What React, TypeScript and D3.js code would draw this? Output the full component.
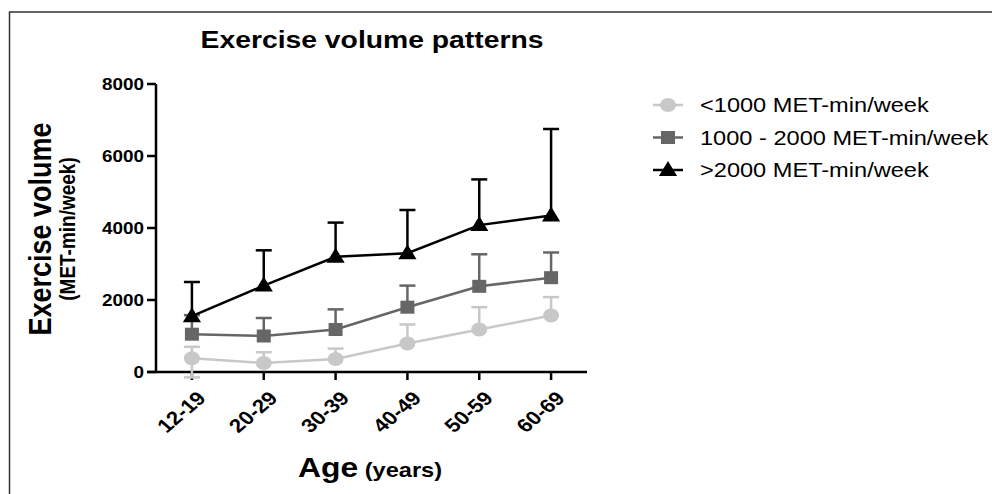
import React from 'react'
import * as d3 from 'd3'

// age groups on the x axis
const categories = ['12-19', '20-29', '30-39', '40-49', '50-59', '60-69']
const yTicks = [0, 2000, 4000, 6000, 8000]

// means and the top of the error bar (mean + SD) for each pattern
const lowMean = [380, 250, 360, 790, 1180, 1570]
const lowTop = [700, 550, 650, 1320, 1800, 2080]
const lowBottom = [-150, null, null, null, null, null]
const midMean = [1050, 1000, 1180, 1800, 2380, 2620]
const midTop = [1580, 1500, 1740, 2400, 3270, 3320]
const highMean = [1550, 2400, 3200, 3300, 4080, 4350]
const highTop = [2500, 3380, 4150, 4500, 5350, 6750]

const seriesNames = ['<1000 MET-min/week', '1000 - 2000 MET-min/week', '>2000 MET-min/week']

const font = 'Liberation Sans, Arial, Helvetica, sans-serif'
// the original figure is a bit stretched sideways, so text gets the same stretch
const SX = 1.18

const x = d3.scalePoint<string>().domain(categories).range([156, 587]).padding(0.5)
const y = d3.scaleLinear().domain([0, 8000]).range([372, 84])

const series = [
  { name: seriesNames[0], mean: lowMean, top: lowTop, bottom: lowBottom, color: '#c8c8c8', shape: 'circle' },
  { name: seriesNames[1], mean: midMean, top: midTop, bottom: null, color: '#666666', shape: 'square' },
  { name: seriesNames[2], mean: highMean, top: highTop, bottom: null, color: '#000000', shape: 'triangle' }
]

function Marker (props: { shape: string, cx: number, cy: number, color: string }) {
  const { shape, cx, cy, color } = props
  if (shape === 'circle') return <ellipse cx={cx} cy={cy} rx={8} ry={7} fill={color} />
  if (shape === 'square') return <rect x={cx - 7} y={cy - 6.5} width={14} height={13} fill={color} />
  const tri = d3.symbol().type(d3.symbolTriangle).size(130)()
  return <path d={tri || ''} transform={'translate(' + cx + ',' + (cy + 1) + ') scale(1.05,1)'} fill={color} />
}

// text placed at (tx, ty), stretched sideways, then optionally rotated
function T (props: { tx: number, ty: number, rot?: number, size: number, bold?: boolean, anchor?: string, dy?: string, children: any }) {
  const { tx, ty, rot, size, bold, anchor, dy, children } = props
  let tr = 'translate(' + tx + ',' + ty + ') scale(' + SX + ',1)'
  if (rot) tr += ' rotate(' + rot + ')'
  return (
    <text transform={tr} dy={dy} textAnchor={anchor || 'start'} fontFamily={font}
      fontWeight={bold ? 'bold' : 'normal'} fontSize={size}>{children}</text>
  )
}

export default function App () {
  const line = d3.line<number>()
    .x((d, i) => x(categories[i]) as number)
    .y(d => y(d))

  return (
    <svg width={992} height={494} style={{ position: 'absolute', left: 0, top: 0, background: '#fff' }}>
      <rect x={9.5} y={12} width={1000} height={500} fill='none' stroke='#333' strokeWidth={1.5} />

      <T tx={372} ty={48} size={24} bold anchor='middle'>Exercise volume patterns</T>

      {/* y axis */}
      <line x1={156} x2={156} y1={y(8000)} y2={y(0)} stroke='#000' strokeWidth={2.5} />
      {yTicks.map(t => (
        <g key={t}>
          <line x1={147} x2={156} y1={y(t)} y2={y(t)} stroke='#000' strokeWidth={2.5} />
          <T tx={144} ty={y(t)} dy='0.36em' anchor='end' size={16} bold>{t}</T>
        </g>
      ))}

      {/* x axis */}
      <line x1={147} x2={587} y1={y(0)} y2={y(0)} stroke='#000' strokeWidth={2.5} />
      {categories.map(c => (
        <g key={c}>
          <line x1={x(c)} x2={x(c)} y1={y(0)} y2={y(0) + 8} stroke='#000' strokeWidth={2.5} />
          <T tx={(x(c) as number) + 4} ty={390} rot={-45} dy='0.7em' anchor='end' size={19} bold>{c}</T>
        </g>
      ))}

      {/* series */}
      {series.map(s => (
        <g key={s.name}>
          {s.mean.map((m, i) => {
            const cx = x(categories[i]) as number
            return (
              <g key={i}>
                <line x1={cx} x2={cx} y1={y(m)} y2={y(s.top[i])} stroke={s.color} strokeWidth={2.5} />
                <line x1={cx - 8} x2={cx + 8} y1={y(s.top[i])} y2={y(s.top[i])} stroke={s.color} strokeWidth={2.5} />
                {s.bottom && s.bottom[i] != null && (
                  <g>
                    <line x1={cx} x2={cx} y1={y(m)} y2={y(s.bottom[i] as number)} stroke={s.color} strokeWidth={2.5} />
                    <line x1={cx - 8} x2={cx + 8} y1={y(s.bottom[i] as number)} y2={y(s.bottom[i] as number)} stroke={s.color} strokeWidth={2.5} />
                  </g>
                )}
              </g>
            )
          })}
          <path d={line(s.mean) || ''} fill='none' stroke={s.color} strokeWidth={2.5} />
          {s.mean.map((m, i) => (
            <Marker key={i} shape={s.shape} cx={x(categories[i]) as number} cy={y(m)} color={s.color} />
          ))}
        </g>
      ))}

      {/* legend */}
      {series.map((s, i) => {
        const ly = 105 + i * 32.5
        return (
          <g key={s.name}>
            <line x1={653} x2={683} y1={ly} y2={ly} stroke={s.color} strokeWidth={2.5} />
            <Marker shape={s.shape} cx={668} cy={ly} color={s.color} />
            <T tx={700} ty={ly} dy='0.36em' size={20}>{s.name}</T>
          </g>
        )
      })}

      {/* axis titles */}
      <T tx={51} ty={229} rot={-90} anchor='middle' size={27} bold>Exercise volume</T>
      <T tx={75} ty={229} rot={-90} anchor='middle' size={19} bold>(MET-min/week)</T>
      <text transform={'translate(370,477) scale(' + SX + ',1)'} textAnchor='middle' fontFamily={font} fontWeight='bold'>
        <tspan fontSize={27}>Age</tspan>
        <tspan fontSize={20}> (years)</tspan>
      </text>
    </svg>
  )
}
